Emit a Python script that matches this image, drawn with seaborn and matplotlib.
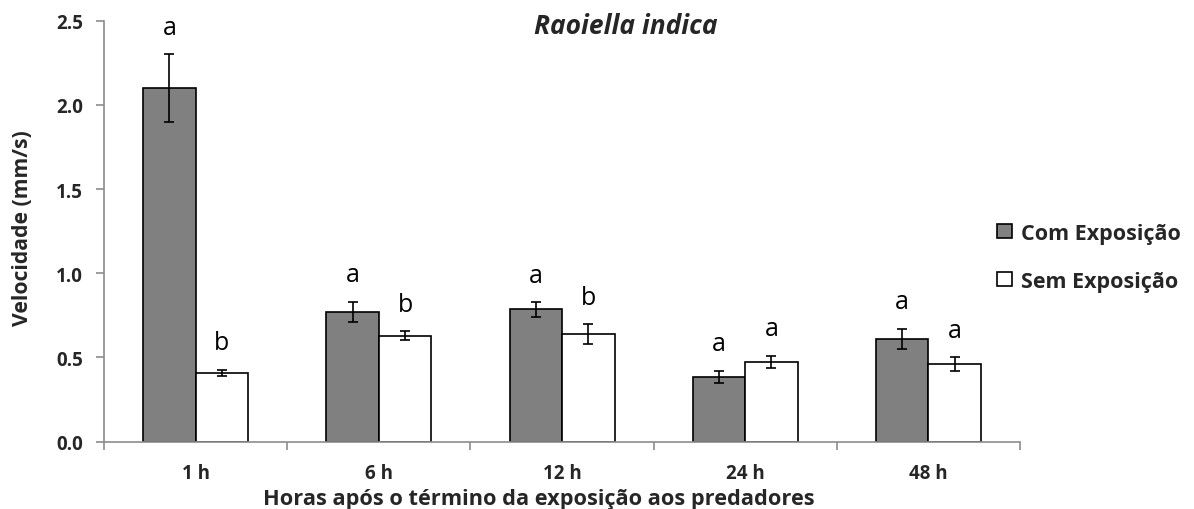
import matplotlib
matplotlib.use("Agg")
import matplotlib.pyplot as plt
import seaborn as sns
import pandas as pd
import numpy as np

# Walking speed of Raoiella indica after exposure to predators
horas = ["1 h", "6 h", "12 h", "24 h", "48 h"]
grupos = ["Com Exposição", "Sem Exposição"]
com_exposicao = [2.10, 0.77, 0.785, 0.385, 0.61]
sem_exposicao = [0.41, 0.63, 0.64, 0.475, 0.46]
erro_com = [0.20, 0.06, 0.042, 0.036, 0.06]
erro_sem = [0.018, 0.026, 0.058, 0.035, 0.042]
letras_com = ["a", "a", "a", "a", "a"]
letras_sem = ["b", "b", "b", "a", "a"]

df = pd.DataFrame({
    "hora": horas * 2,
    "grupo": [grupos[0]] * len(horas) + [grupos[1]] * len(horas),
    "velocidade": com_exposicao + sem_exposicao,
})

sns.set_theme(style="white")
plt.rcParams["font.family"] = ["Open Sans", "DejaVu Sans"]

fig = plt.figure(figsize=(11.94, 5.10), dpi=100)
ax = fig.add_axes([0.0871, 0.1320, 0.7672, 0.8255])

sns.barplot(data=df, x="hora", y="velocidade", hue="grupo", order=horas,
            hue_order=grupos, palette=["#808080", "#ffffff"], width=0.573,
            edgecolor="black", linewidth=1.2, errorbar=None, ax=ax,
            legend=True)

# error bars and significance letters on top of each bar
n = len(horas)
patches = ax.patches[: 2 * n]
valores = com_exposicao + sem_exposicao
erros = erro_com + erro_sem
letras = letras_com + letras_sem
for p, v, e, l in zip(patches, valores, erros, letras):
    cx = p.get_x() + p.get_width() / 2
    ax.errorbar(cx, v, yerr=e, fmt="none", ecolor="black", elinewidth=1.2,
                capsize=3.6, capthick=1.2)
    ax.text(cx, v + e + 0.16, l, ha="center", va="center", fontsize=18,
            color="black")

ax.set_xlim(-0.5, n - 0.5)
ax.set_ylim(0, 2.5)
ticks_y = np.arange(0, 2.51, 0.5)
ax.set_yticks(ticks_y)
ax.set_yticklabels([f"{t:.1f}" for t in ticks_y], fontweight="bold",
                   fontsize=13.5)
ax.set_xticks(range(n))
ax.set_xticklabels(horas, fontweight="bold", fontsize=13.5)
ax.set_xticks(np.arange(-0.5, n, 1.0), minor=True)
ax.tick_params(axis="x", which="major", length=0, pad=15)
ax.tick_params(axis="x", which="minor", length=6, width=1.2, color="#8c8c8c",
               direction="out", bottom=True)
ax.tick_params(axis="y", which="major", length=6, width=1.2, color="#8c8c8c",
               direction="out", left=True, pad=9)

for side in ["top", "right"]:
    ax.spines[side].set_visible(False)
for side in ["left", "bottom"]:
    ax.spines[side].set_color("#8c8c8c")
    ax.spines[side].set_linewidth(1.2)

ax.set_xlabel("Horas após o término da exposição aos predadores",
              fontweight="bold", fontsize=15.7, va="center")
ax.xaxis.set_label_coords(0.475, -0.136)
ax.set_ylabel("Velocidade (mm/s)", fontweight="bold", fontsize=15.2)
ax.yaxis.set_label_coords(-0.077, 0.51)
ax.set_title("Raoiella indica", fontweight="bold", fontstyle="italic",
             fontsize=19, x=0.57, y=0.95)

handles, labels = ax.get_legend_handles_labels()
ax.legend(handles, labels, loc="center left", bbox_to_anchor=(0.819, 0.494),
          bbox_transform=fig.transFigure, frameon=False,
          prop={"weight": "bold", "size": 15.5}, handlelength=0.68,
          handleheight=0.68, handletextpad=0.4, labelspacing=1.25)

fig.savefig("out.png", dpi=100)
